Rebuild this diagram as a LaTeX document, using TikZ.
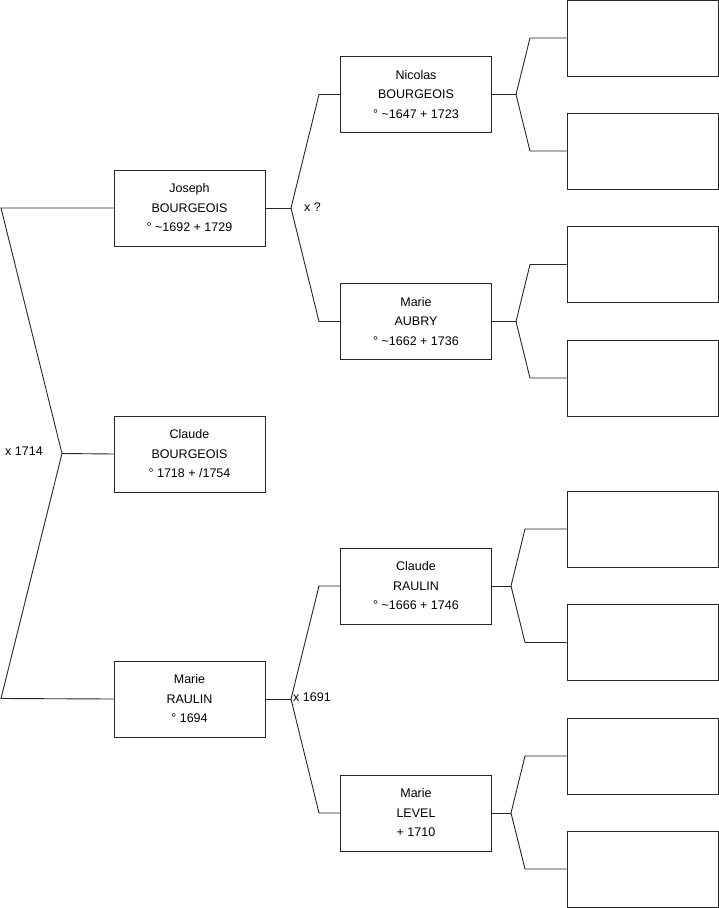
\documentclass[tikz,border=0pt]{standalone}
\usepackage{fontspec}
\setmainfont{Liberation Sans}
\begin{document}
\begin{tikzpicture}[x=1pt,y=-1pt,
  person/.style={draw=black!85,line width=0.9pt,rectangle,minimum width=151pt,minimum height=76pt,inner sep=0pt,align=center,font=\fontsize{12.5}{19.5}\selectfont},
  empty/.style={draw=black!85,line width=0.9pt,rectangle,minimum width=151pt,minimum height=76pt,inner sep=0pt},
  link/.style={draw=black!85,line width=0.9pt},
  lbl/.style={font=\fontsize{12.5}{15}\selectfont,inner sep=0pt}]
\useasboundingbox (0,0) rectangle (719,908);
% generation 1-2
\node[person] (jb) at (189.5,208) {Joseph\\BOURGEOIS\\° \textasciitilde1692 + 1729};
\node[person] (cb) at (189.5,454) {Claude\\BOURGEOIS\\° 1718 + /1754};
\node[person] (mr) at (189.5,699) {Marie\\RAULIN\\° 1694};
% generation 3
\node[person] (nb) at (416,94.5) {Nicolas\\BOURGEOIS\\° \textasciitilde1647 + 1723};
\node[person] (ma) at (416,321.5) {Marie\\AUBRY\\° \textasciitilde1662 + 1736};
\node[person] (cr) at (416,586) {Claude\\RAULIN\\° \textasciitilde1666 + 1746};
\node[person] (ml) at (416,813) {Marie\\LEVEL\\+ 1710};
% generation 4 (empty)
\node[empty] (e1) at (642.5,38) {};
\node[empty] (e2) at (642.5,151) {};
\node[empty] (e3) at (642.5,264.5) {};
\node[empty] (e4) at (642.5,378) {};
\node[empty] (e5) at (642.5,529) {};
\node[empty] (e6) at (642.5,642.5) {};
\node[empty] (e7) at (642.5,756) {};
\node[empty] (e8) at (642.5,869) {};
% coordinates
\coordinate (c1) at (1,208);
\coordinate (v1) at (62,453.5);
\coordinate (c2) at (1,698.5);
\coordinate (v2) at (291,208);
\coordinate (t2) at (319,94.5);
\coordinate (b2) at (319,321.5);
\coordinate (v3) at (291,699);
\coordinate (t3) at (319,586);
\coordinate (b3) at (319,813);
\coordinate (v4) at (516,94.5);
\coordinate (t4) at (530,38);
\coordinate (b4) at (530,151);
\coordinate (v5) at (516,321.5);
\coordinate (t5) at (530,264.5);
\coordinate (b5) at (530,378);
\coordinate (v6) at (511,586);
\coordinate (t6) at (525,529);
\coordinate (b6) at (525,642.5);
\coordinate (v7) at (511,813);
\coordinate (t7) at (525,756);
\coordinate (b7) at (525,869);
% connectors
\draw[link] (jb.west) -- (c1) -- (v1) -- (c2) -- (mr.west);
\draw[link] (v1) -- (cb.west);
\draw[link] (jb.east) -- (v2);
\draw[link] (nb.west) -- (t2) -- (v2) -- (b2) -- (ma.west);
\draw[link] (mr.east) -- (v3);
\draw[link] (cr.west) -- (t3) -- (v3) -- (b3) -- (ml.west);
\draw[link] (nb.east) -- (v4);
\draw[link] (e1.west) -- (t4) -- (v4) -- (b4) -- (e2.west);
\draw[link] (ma.east) -- (v5);
\draw[link] (e3.west) -- (t5) -- (v5) -- (b5) -- (e4.west);
\draw[link] (cr.east) -- (v6);
\draw[link] (e5.west) -- (t6) -- (v6) -- (b6) -- (e6.west);
\draw[link] (ml.east) -- (v7);
\draw[link] (e7.west) -- (t7) -- (v7) -- (b7) -- (e8.west);
% labels
\node[lbl] (l1) at (24,451.5) {x 1714};
\node[lbl,anchor=west] (l2) at (304,207) {x ?};
\node[lbl,anchor=west] (l3) at (293,697.5) {x 1691};
\end{tikzpicture}
\end{document}
